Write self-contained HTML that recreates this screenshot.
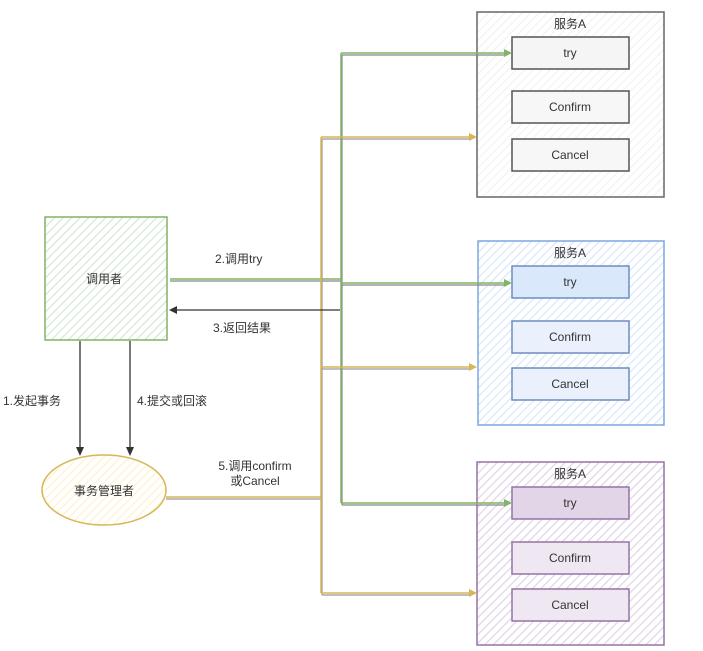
<!DOCTYPE html>
<html><head><meta charset="utf-8"><style>
html,body{margin:0;padding:0;background:#fff;}
svg{display:block;font-family:"Liberation Sans","Noto Sans CJK SC",sans-serif;}
</style></head><body>
<svg width="703" height="651" viewBox="0 0 703 651" xmlns="http://www.w3.org/2000/svg">
<defs>
<pattern id="hg" width="6" height="6" patternUnits="userSpaceOnUse" patternTransform="rotate(45)"><rect width="6" height="6" fill="#fff"/><line x1="0" y1="0" x2="0" y2="6" stroke="#d5e8d4" stroke-width="2.5"/></pattern>
<pattern id="hy" width="6" height="6" patternUnits="userSpaceOnUse" patternTransform="rotate(45)"><rect width="6" height="6" fill="#fff"/><line x1="0" y1="0" x2="0" y2="6" stroke="#fff2cc" stroke-width="2.5"/></pattern>
<pattern id="hgr" width="6" height="6" patternUnits="userSpaceOnUse" patternTransform="rotate(45)"><rect width="6" height="6" fill="#fff"/><line x1="0" y1="0" x2="0" y2="6" stroke="#f0f0f0" stroke-width="2"/></pattern>
<pattern id="hb" width="6" height="6" patternUnits="userSpaceOnUse" patternTransform="rotate(45)"><rect width="6" height="6" fill="#fff"/><line x1="0" y1="0" x2="0" y2="6" stroke="#dae8fc" stroke-width="2.5"/></pattern>
<pattern id="hp" width="6" height="6" patternUnits="userSpaceOnUse" patternTransform="rotate(45)"><rect width="6" height="6" fill="#fff"/><line x1="0" y1="0" x2="0" y2="6" stroke="#e1d5e7" stroke-width="2.5"/></pattern>
</defs>

<!-- service boxes -->
<g font-size="12" fill="#333" text-anchor="middle">
<rect x="477" y="12" width="187" height="185" fill="url(#hgr)" stroke="#666" stroke-width="1.5"/>
<text x="570" y="28">服务A</text>
<rect x="512" y="37" width="117" height="32" fill="#f5f5f5" stroke="#555" stroke-width="1.5"/>
<text x="570" y="57">try</text>
<rect x="512" y="91" width="117" height="32" fill="#f7f7f7" stroke="#555" stroke-width="1.5"/>
<text x="570" y="111">Confirm</text>
<rect x="512" y="139" width="117" height="32" fill="#f7f7f7" stroke="#555" stroke-width="1.5"/>
<text x="570" y="159">Cancel</text>

<rect x="478" y="241" width="186" height="184" fill="url(#hb)" stroke="#7ea6e0" stroke-width="1.5"/>
<text x="570" y="257">服务A</text>
<rect x="512" y="266" width="117" height="32" fill="#dae8fc" stroke="#6c8ebf" stroke-width="1.5"/>
<text x="570" y="286">try</text>
<rect x="512" y="321" width="117" height="32" fill="#eaf1fc" stroke="#6c8ebf" stroke-width="1.5"/>
<text x="570" y="341">Confirm</text>
<rect x="512" y="368" width="117" height="32" fill="#eaf1fc" stroke="#6c8ebf" stroke-width="1.5"/>
<text x="570" y="388">Cancel</text>

<rect x="477" y="462" width="187" height="183" fill="url(#hp)" stroke="#9673a6" stroke-width="1.5"/>
<text x="570" y="478">服务A</text>
<rect x="512" y="487" width="117" height="32" fill="#e1d5e7" stroke="#9673a6" stroke-width="1.5"/>
<text x="570" y="507">try</text>
<rect x="512" y="542" width="117" height="32" fill="#efe7f2" stroke="#9673a6" stroke-width="1.5"/>
<text x="570" y="562">Confirm</text>
<rect x="512" y="589" width="117" height="32" fill="#efe7f2" stroke="#9673a6" stroke-width="1.5"/>
<text x="570" y="609">Cancel</text>
</g>

<!-- caller -->
<rect x="45" y="217" width="122" height="123" fill="url(#hg)" stroke="#82b366" stroke-width="1.5"/>
<text x="104" y="283" font-size="12" fill="#333" text-anchor="middle">调用者</text>
<!-- manager -->
<ellipse cx="104" cy="490" rx="62" ry="35" fill="url(#hy)" stroke="#d6b656" stroke-width="1.5"/>
<text x="104" y="495" font-size="12" fill="#333" text-anchor="middle">事务管理者</text>

<!-- green lines -->
<g fill="none" stroke-width="1.2">
<path d="M170 281 H342 M342 55 V505 M342 55 H505 M342 285 H505 M342 505 H505" stroke="#888"/>
<path d="M170 279 H341 M341 53 V503 M341 53 H505 M341 283 H505 M341 503 H505" stroke="#82b366" stroke-width="1.5"/>
</g>
<g fill="#82b366">
<polygon points="512,53 504,49 504,57"/><polygon points="512,283 504,279 504,287"/><polygon points="512,503 504,499 504,507"/>
</g>
<!-- yellow lines -->
<g fill="none">
<path d="M166 499 H322 M322 139 V595 M322 139 H470 M322 369 H470 M322 595 H470" stroke="#999" stroke-width="1.2"/>
<path d="M166 497 H321 M321 137 V593 M321 137 H470 M321 367 H470 M321 593 H470" stroke="#d6b656" stroke-width="1.5"/>
</g>
<g fill="#d6b656">
<polygon points="477,137 469,133 469,141"/><polygon points="477,367 469,363 469,371"/><polygon points="477,593 469,589 469,597"/>
</g>
<!-- return arrow -->
<path d="M340 310 H176" stroke="#333" stroke-width="1.3" fill="none"/>
<polygon points="169,310 177,306 177,314" fill="#333"/>
<!-- down arrows -->
<path d="M80 341 V448 M130 341 V448" stroke="#333" stroke-width="1.3" fill="none"/>
<polygon points="80,456 76,447 84,447" fill="#333"/>
<polygon points="130,456 126,447 134,447" fill="#333"/>

<g font-size="12" fill="#333">
<text x="215" y="263">2.调用try</text>
<text x="213" y="332">3.返回结果</text>
<text x="3" y="405">1.发起事务</text>
<text x="137" y="405">4.提交或回滚</text>
<text x="255" y="470" text-anchor="middle">5.调用confirm</text>
<text x="255" y="485" text-anchor="middle">或Cancel</text>
</g>
</svg>
</body></html>
